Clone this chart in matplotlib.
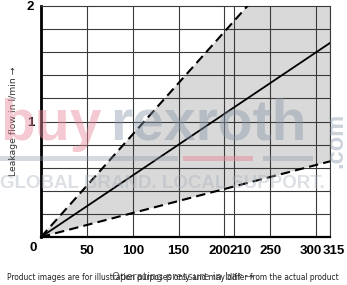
import numpy as np
import matplotlib
matplotlib.use("Agg")
import matplotlib.pyplot as plt
import matplotlib.transforms as mtransforms

# data
pressure = [0, 315]
upper = [0, 2.80]    # dashed, upper limit
mean = [0, 1.68]     # solid
lower = [0, 0.655]   # dashed, lower limit

x_ticks = [0, 50, 100, 150, 200, 210, 250, 300, 315]
x_labels = ['', '50', '100', '150', '200', '210', '250', '300', '315']
y_grid = [0.2, 0.4, 0.6, 0.8, 1.0, 1.2, 1.4, 1.6, 1.8]
y_ticks = [1, 2]
y_labels = ['1', '2']

fig = plt.figure(figsize=(3.47, 2.85), dpi=100)
ax = fig.add_axes([41/347, 48/285, 289/347, 231/285])

ax.fill_between(pressure, lower, upper, color='#d9d9d9', lw=0, zorder=1)
ax.plot(pressure, upper, color='black', lw=1.5, ls=(0, (4.5, 2.5)), zorder=3)
ax.plot(pressure, mean, color='black', lw=1.3, zorder=3)
ax.plot(pressure, lower, color='black', lw=1.5, ls=(0, (4.5, 2.5)), zorder=3)

for x in x_ticks[1:]:
    ax.axvline(x, color='#3a3a3a', lw=0.8, zorder=2)
for y in y_grid:
    ax.axhline(y, color='#3a3a3a', lw=0.8, zorder=2)

ax.set_xlim(0, 315)
ax.set_ylim(0, 2)
ax.set_xticks(x_ticks)
ax.set_xticklabels(x_labels)
ax.set_yticks(y_ticks)
ax.set_yticklabels(y_labels)
ax.tick_params(length=0, labelsize=9.5)
ax.tick_params(axis='x', pad=6)
ax.tick_params(axis='y', pad=5)
for lab in ax.get_xticklabels() + ax.get_yticklabels():
    lab.set_fontfamily('Liberation Sans')
    lab.set_fontweight('bold')

# nudge crowded labels like the reference
shifts = {'200': -5, '210': 7, '300': -5, '315': 4}
for lab in ax.get_xticklabels():
    dx = shifts.get(lab.get_text(), 0)
    if dx:
        lab.set_transform(lab.get_transform() +
                          mtransforms.ScaledTranslation(dx/100, 0, fig.dpi_scale_trans))

ax.text(-8.7, -0.095, '0', ha='center', va='center', fontsize=9.5,
        fontfamily='Liberation Sans', fontweight='bold', clip_on=False)

for s in ax.spines.values():
    s.set_linewidth(0.8)
    s.set_color('#3a3a3a')
ax.spines['left'].set_linewidth(2)
ax.spines['left'].set_color('black')
ax.spines['bottom'].set_linewidth(1.6)
ax.spines['bottom'].set_color('black')

fig.text(14/347, 1-121/285, 'Leakage flow in l/min \u2192', rotation=90,
         ha='center', va='center', fontsize=6.7, color='#333333')

# watermark
wm = dict(fontweight='bold', fontfamily='Liberation Sans')
fig.text(0/347, 1-140/285, 'buy', fontsize=41, color='#e8899a', alpha=0.45,
         ha='left', va='baseline', **wm)
fig.text(110/347, 1-140/285, 'rexroth', fontsize=41, color='#8696a8', alpha=0.42,
         ha='left', va='baseline', **wm)
fig.text(342/347, 1-140/285, '.com', fontsize=17, color='#8696a8', alpha=0.42,
         rotation=90, rotation_mode='anchor', ha='center', va='baseline', **wm)
fig.patches.append(plt.Rectangle((0, 1-161/285), 178/347, 5/285,
                                 transform=fig.transFigure, color='#8696a8', alpha=0.35, lw=0))
fig.patches.append(plt.Rectangle((183/347, 1-161/285), 70/347, 5/285,
                                 transform=fig.transFigure, color='#e8899a', alpha=0.5, lw=0))
fig.patches.append(plt.Rectangle((263/347, 1-161/285), 50/347, 5/285,
                                 transform=fig.transFigure, color='#8696a8', alpha=0.35, lw=0))
fig.text(0/347, 1-188/285, 'GLOBAL BRAND. LOCAL SUPPORT.', fontsize=13.5,
         color='#a9b2bc', alpha=0.4, ha='left', va='baseline', **wm)

fig.text(183/347, 1-277/285, 'Operating pressure in bar \u2192', ha='center',
         va='center', fontsize=7.3, color='#555555')
fig.text(7/347, 1-277/285,
         'Product images are for illustration purposes only and may differ from the actual product',
         ha='left', va='center', fontsize=5.45, color='#222222')

fig.savefig('out.png', dpi=100)
